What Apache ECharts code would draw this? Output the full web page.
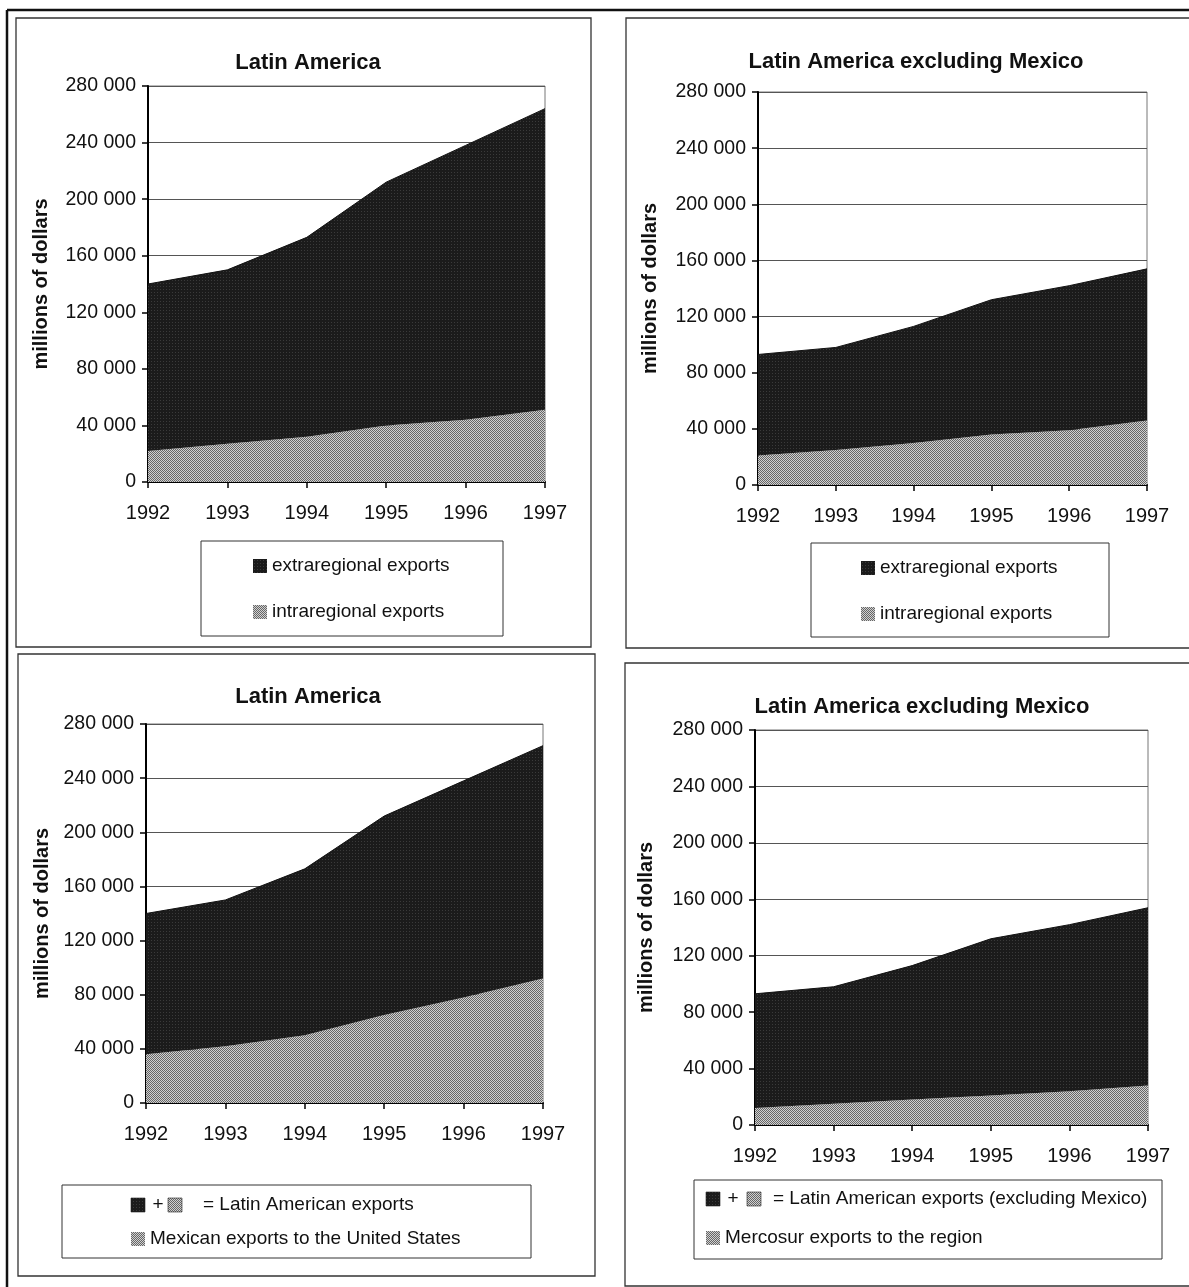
<!DOCTYPE html>
<html>
<head>
<meta charset="utf-8">
<script src="https://cdn.jsdelivr.net/npm/echarts@6/dist/echarts.min.js"></script>
<style>
html,body{margin:0;padding:0;background:#fff;}
#c{width:1189px;height:1287px;}
</style>
</head>
<body>
<div id="c"></div>
<script>
// ---- data ----
const years = ['1992','1993','1994','1995','1996','1997'];
const yTicks = [0, 40000, 80000, 120000, 160000, 200000, 240000, 280000];

// Panel 1: Latin America
const la_intra = [22000, 27000, 32000, 40000, 44000, 51000];
const la_extra = [118000, 123000, 141000, 172000, 194000, 213000];
// Panel 2: Latin America excluding Mexico
const lax_intra = [21000, 25000, 30000, 36000, 39000, 46000];
const lax_extra = [72000, 73000, 83000, 96000, 103000, 108000];
// Panel 3: Latin America, Mexican exports to US
const la_mexUS = [36000, 42000, 50000, 65000, 78000, 92000];
const la_other = [104000, 108000, 123000, 147000, 160000, 172000];
// Panel 4: Latin America excl. Mexico, Mercosur exports to region
const lax_mercosur = [12000, 15000, 18000, 21000, 24000, 28000];
const lax_other = [81000, 83000, 95000, 111000, 118000, 126000];

// ---- patterns ----
function lightPattern(){
  const c=document.createElement('canvas'); c.width=2; c.height=2;
  const g=c.getContext('2d');
  g.fillStyle='#d0d0d0'; g.fillRect(0,0,2,2);
  g.fillStyle='#666666'; g.fillRect(0,0,1,1); g.fillRect(1,1,1,1);
  return {image:c, repeat:'repeat'};
}
function darkPattern(){
  const c=document.createElement('canvas'); c.width=3; c.height=3;
  const g=c.getContext('2d');
  g.fillStyle='#1b1b1b'; g.fillRect(0,0,3,3);
  g.fillStyle='#3a3a3a'; g.fillRect(1,1,1,1);
  return {image:c, repeat:'repeat'};
}
const LIGHT = lightPattern();
const DARK = darkPattern();

const FONT = '"Liberation Sans", Arial, Helvetica, sans-serif';
const TXT = '#111';

const grids = [
  {left:148, top:86, width:397, height:396},
  {left:758, top:92, width:389, height:393},
  {left:146, top:724, width:397, height:379},
  {left:755, top:730, width:393, height:395}
];

function fmt(v){ return v===0 ? '0' : (v/1000) + ' 000'; }

function xAx(i){
  return {
    type:'category', gridIndex:i, data:years, boundaryGap:false,
    axisLine:{show:true, lineStyle:{color:'#000', width:2}},
    axisTick:{show:true, length:6, lineStyle:{color:'#000', width:1.5}},
    axisLabel:{fontFamily:FONT, fontSize:20, color:TXT, margin:21, interval:0},
    splitLine:{show:false}
  };
}
function yAx(i, gap){
  return {
    type:'value', gridIndex:i, min:yTicks[0], max:yTicks[yTicks.length-1], interval:yTicks[1]-yTicks[0],
    name:'millions of dollars', nameLocation:'middle', nameRotate:90, nameGap:gap,
    nameTextStyle:{fontFamily:FONT, fontSize:20, fontWeight:'bold', color:TXT},
    axisLine:{show:true, lineStyle:{color:'#000', width:2}},
    axisTick:{show:true, length:6, lineStyle:{color:'#000', width:1.5}},
    axisLabel:{fontFamily:FONT, fontSize:19.5, color:TXT, margin:12, formatter:fmt},
    splitLine:{show:true, lineStyle:{color:'#555', width:1}}
  };
}
function areaSeries(name, data, idx, stack, fill, edge){
  return {
    name:name, type:'line', xAxisIndex:idx, yAxisIndex:idx, stack:stack,
    data:data, symbol:'none', showSymbol:false, smooth:false,
    lineStyle: edge ? {color:'#111', width:1} : {width:0, opacity:0},
    itemStyle:{color:fill},
    areaStyle:{color:fill, opacity:1},
    emphasis:{disabled:true}
  };
}

const titleStyle = {fontFamily:FONT, fontSize:22, fontWeight:'bold', color:TXT};
const legendBase = {
  orient:'vertical', icon:'rect', itemWidth:14, itemHeight:14, itemGap:26,
  textStyle:{fontFamily:FONT, fontSize:19, color:TXT, lineHeight:20},
  selectedMode:false, padding:0
};

function rect(x,y,w,h,lw,color){
  return {type:'rect', silent:true, z:100, shape:{x:x,y:y,width:w,height:h},
    style:{fill:null, stroke:color||'#333', lineWidth:lw||1.2}};
}
function line(x1,y1,x2,y2,lw){
  return {type:'line', silent:true, z:100, shape:{x1:x1,y1:y1,x2:x2,y2:y2},
    style:{stroke:'#111', lineWidth:lw}};
}
function sq(x,y,fill){
  return {type:'rect', silent:true, z:100, shape:{x:x,y:y,width:14,height:14},
    style:{fill:fill, stroke:'#222', lineWidth:0.6}};
}
function txt(x,y,s,align){
  return {type:'text', silent:true, z:100, x:x, y:y,
    style:{text:s, fontFamily:FONT, fontSize:19, fill:TXT, align:align||'left', verticalAlign:'middle'}};
}

const option = {
  animation:false,
  backgroundColor:'#fff',
  title:[
    {text:'Latin America', left:308, top:52, textAlign:'center', textStyle:titleStyle, padding:0},
    {text:'Latin America excluding Mexico', left:916, top:51, textAlign:'center', textStyle:titleStyle, padding:0},
    {text:'Latin America', left:308, top:686, textAlign:'center', textStyle:titleStyle, padding:0},
    {text:'Latin America excluding Mexico', left:922, top:696, textAlign:'center', textStyle:titleStyle, padding:0}
  ],
  grid: grids.map(g => Object.assign({show:true, borderColor:'#777', borderWidth:1, backgroundColor:'transparent'}, g)),
  xAxis:[xAx(0), xAx(1), xAx(2), xAx(3)],
  yAxis:[yAx(0,97), yAx(1,98), yAx(2,94), yAx(3,99)],
  legend:[
    Object.assign({}, legendBase, {left:253, top:556,
      data:[{name:'extraregional exports', itemStyle:{color:DARK, borderWidth:0}},
            {name:'intraregional exports', itemStyle:{color:LIGHT, borderWidth:0}}]}),
    Object.assign({}, legendBase, {left:861, top:558,
      data:[{name:'extraregional exports', itemStyle:{color:DARK, borderWidth:0}},
            {name:'intraregional exports', itemStyle:{color:LIGHT, borderWidth:0}}]}),
    Object.assign({}, legendBase, {left:131, top:1229,
      data:[{name:'Mexican exports to the United States', itemStyle:{color:LIGHT, borderWidth:0}}]}),
    Object.assign({}, legendBase, {left:706, top:1228,
      data:[{name:'Mercosur exports to the region', itemStyle:{color:LIGHT, borderWidth:0}}]})
  ],
  series:[
    areaSeries('intraregional exports', la_intra, 0, 's1', LIGHT, false),
    areaSeries('extraregional exports', la_extra, 0, 's1', DARK, true),
    areaSeries('intraregional exports', lax_intra, 1, 's2', LIGHT, false),
    areaSeries('extraregional exports', lax_extra, 1, 's2', DARK, true),
    areaSeries('Mexican exports to the United States', la_mexUS, 2, 's3', LIGHT, false),
    areaSeries('Latin American exports', la_other, 2, 's3', DARK, true),
    areaSeries('Mercosur exports to the region', lax_mercosur, 3, 's4', LIGHT, false),
    areaSeries('Latin American exports (excluding Mexico)', lax_other, 3, 's4', DARK, true)
  ],
  graphic:[
    // outer frame
    line(7,10,1189,10,2.5),
    line(7,10,7,1287,2.5),
    // panel frames
    rect(16,18,575,629,1.3),
    rect(626,18,600,630,1.3),
    rect(18,654,577,622,1.3),
    rect(625,663,600,623,1.3),
    // legend boxes
    rect(201,541,302,95,1),
    rect(811,543,298,94,1),
    rect(62,1185,469,73,1),
    rect(694,1180,468,79,1),
    // panel 3 composite legend row
    sq(131,1198,DARK), txt(158,1205,'+','center'), sq(168,1198,LIGHT),
    txt(203,1205,'= Latin American exports'),
    // panel 4 composite legend row
    sq(706,1192,DARK), txt(733,1199,'+','center'), sq(747,1192,LIGHT),
    txt(773,1199,'= Latin American exports (excluding Mexico)')
  ]
};

const chart = echarts.init(document.getElementById('c'), null, {renderer:'canvas'});
chart.setOption(option);
</script>
</body>
</html>
